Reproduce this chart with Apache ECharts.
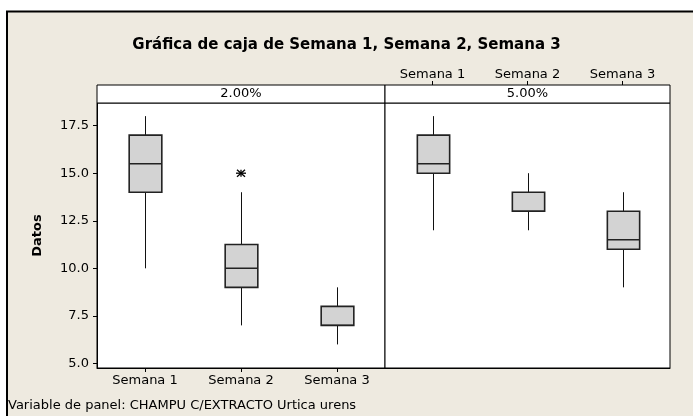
<!DOCTYPE html>
<html>
<head>
<meta charset="utf-8">
<script src="https://cdn.jsdelivr.net/npm/echarts@6/dist/echarts.min.js"></script>
<style>html,body{margin:0;padding:0;background:#fff}#c{width:693px;height:416px}</style>
</head>
<body>
<div id="c"></div>
<script>
// ---- data ----
const categories = ['Semana 1', 'Semana 2', 'Semana 3'];
const panelLabels = ['2.00%', '5.00%'];
// [min whisker, Q1, median, Q3, max whisker]
const boxes2 = [[10, 14, 15.5, 17, 18], [7, 9, 10, 11.25, 14], [6, 7, 7, 8, 9]];
const boxes5 = [[12, 15, 15.5, 17, 18], [12, 13, 13, 14, 15], [9, 11, 11.5, 13, 14]];
const outliers2 = [[1, 15]];
const outliers5 = [];
const yTicks = [5, 7.5, 10, 12.5, 15, 17.5];
const yMin = 4.76, yMax = 18.69;
const titleText = 'Gráfica de caja de Semana 1, Semana 2, Semana 3';
const yName = 'Datos';
const footer = 'Variable de panel: CHAMPU C/EXTRACTO Urtica urens';

// ---- layout ----
const W = 693, H = 416;
const L0 = 97, MID = 385, R1 = 670, TOP = 103, BOT = 368, STRIP = 18;
const FONT = 'DejaVu Sans';
const BG = '#EEEAE0';

const chart = echarts.init(document.getElementById('c'), null, {renderer: 'canvas'});

function toBoxData(arr) { return arr.map((b, i) => [i].concat(b)); }

function renderBox(params, api) {
  const x = api.value(0);
  const v = [1, 2, 3, 4, 5].map(k => api.coord([x, api.value(k)])[1]);
  const cx = Math.round(api.coord([x, 0])[0]) + 0.5;
  const w = api.size([1, 0])[0] * 0.34;
  const lineStyle = {stroke: '#111', lineWidth: 1};
  return {
    type: 'group',
    children: [
      {type: 'line', shape: {x1: cx, y1: v[0], x2: cx, y2: v[1]}, style: lineStyle},
      {type: 'line', shape: {x1: cx, y1: v[3], x2: cx, y2: v[4]}, style: lineStyle},
      {type: 'rect', shape: {x: cx - w / 2, y: v[3], width: w, height: v[1] - v[3]},
        style: {fill: '#D3D3D3', stroke: '#222', lineWidth: 1.6}},
      {type: 'line', shape: {x1: cx - w / 2, y1: v[2], x2: cx + w / 2, y2: v[2]}, style: {stroke: '#222', lineWidth: 1.4}}
    ]
  };
}

function renderStar(params, api) {
  const p = api.coord([api.value(0), api.value(1)]);
  const s = {stroke: '#000', lineWidth: 1.3};
  const a = 5, b = 3.5;
  return {
    type: 'group',
    children: [
      {type: 'line', shape: {x1: p[0] - a, y1: p[1], x2: p[0] + a, y2: p[1]}, style: s},
      {type: 'line', shape: {x1: p[0], y1: p[1] - b, x2: p[0], y2: p[1] + b}, style: s},
      {type: 'line', shape: {x1: p[0] - 4, y1: p[1] - 3.5, x2: p[0] + 4, y2: p[1] + 3.5}, style: s},
      {type: 'line', shape: {x1: p[0] - 4, y1: p[1] + 3.5, x2: p[0] + 4, y2: p[1] - 3.5}, style: s}
    ]
  };
}

const axisText = {color: '#000', fontFamily: FONT, fontSize: 13};

const option = {
  animation: false,
  backgroundColor: '#fff',
  title: {
    text: titleText, left: 'center', top: 33,
    textStyle: {fontFamily: FONT, fontSize: 15, fontWeight: 'bold', color: '#000'}
  },
  grid: [
    {left: L0, top: TOP, width: MID - L0, bottom: H - BOT, show: true, backgroundColor: '#fff', borderColor: '#000', borderWidth: 1},
    {left: MID, top: TOP, width: R1 - MID, bottom: H - BOT, show: true, backgroundColor: '#fff', borderColor: '#000', borderWidth: 1}
  ],
  xAxis: [
    {type: 'category', gridIndex: 0, data: categories, position: 'bottom',
      axisLine: {show: true, lineStyle: {color: '#000'}},
      axisTick: {show: true, alignWithLabel: true, length: 4, lineStyle: {color: '#000'}},
      axisLabel: Object.assign({margin: 6}, axisText), splitLine: {show: false}},
    {type: 'category', gridIndex: 1, data: categories, position: 'bottom',
      axisLine: {show: true, lineStyle: {color: '#000'}}, axisTick: {show: false}, axisLabel: {show: false}},
    {type: 'category', gridIndex: 1, data: categories, position: 'top', offset: STRIP,
      axisLine: {show: false},
      axisTick: {show: true, alignWithLabel: true, length: 4, lineStyle: {color: '#000'}},
      axisLabel: Object.assign({margin: 4}, axisText)}
  ],
  yAxis: [
    {type: 'value', gridIndex: 0, min: yMin, max: yMax,
      name: yName, nameLocation: 'middle', nameGap: 53, nameRotate: 90,
      nameTextStyle: {fontFamily: FONT, fontSize: 13, fontWeight: 'bold', color: '#000'},
      axisLine: {show: true, lineStyle: {color: '#000'}},
      axisTick: {show: true, length: 4, customValues: yTicks, lineStyle: {color: '#000'}},
      axisLabel: Object.assign({margin: 8, customValues: yTicks, formatter: v => v.toFixed(1)}, axisText),
      splitLine: {show: false}},
    {type: 'value', gridIndex: 1, min: yMin, max: yMax,
      axisLine: {show: false}, axisTick: {show: false}, axisLabel: {show: false}, splitLine: {show: false}}
  ],
  graphic: [
    {type: 'rect', z: -10, shape: {x: 7, y: 11.5, width: W + 20, height: H + 20},
      style: {fill: BG, stroke: '#000', lineWidth: 2}},
    {type: 'rect', z: 10, shape: {x: L0, y: TOP - STRIP, width: MID - L0, height: STRIP},
      style: {fill: '#fff', stroke: '#000', lineWidth: 1}},
    {type: 'rect', z: 10, shape: {x: MID, y: TOP - STRIP, width: R1 - MID, height: STRIP},
      style: {fill: '#fff', stroke: '#000', lineWidth: 1}},
    {type: 'text', z: 11, x: (L0 + MID) / 2, y: TOP - STRIP / 2,
      style: {text: panelLabels[0], fill: '#000', font: '13px "DejaVu Sans"', textAlign: 'center', textVerticalAlign: 'middle'}},
    {type: 'text', z: 11, x: (MID + R1) / 2, y: TOP - STRIP / 2,
      style: {text: panelLabels[1], fill: '#000', font: '13px "DejaVu Sans"', textAlign: 'center', textVerticalAlign: 'middle'}},
    {type: 'text', z: 11, x: 8, y: 406,
      style: {text: footer, fill: '#000', font: '13px "DejaVu Sans"', textAlign: 'left', textVerticalAlign: 'middle'}}
  ],
  series: [
    {type: 'custom', xAxisIndex: 0, yAxisIndex: 0, data: toBoxData(boxes2), renderItem: renderBox, encode: {x: 0, y: [1, 2, 3, 4, 5]}, z: 5},
    {type: 'custom', xAxisIndex: 1, yAxisIndex: 1, data: toBoxData(boxes5), renderItem: renderBox, encode: {x: 0, y: [1, 2, 3, 4, 5]}, z: 5},
    {type: 'custom', xAxisIndex: 0, yAxisIndex: 0, data: outliers2, renderItem: renderStar, encode: {x: 0, y: 1}, z: 6},
    {type: 'custom', xAxisIndex: 1, yAxisIndex: 1, data: outliers5, renderItem: renderStar, encode: {x: 0, y: 1}, z: 6}
  ]
};
chart.setOption(option);
</script>
</body>
</html>
